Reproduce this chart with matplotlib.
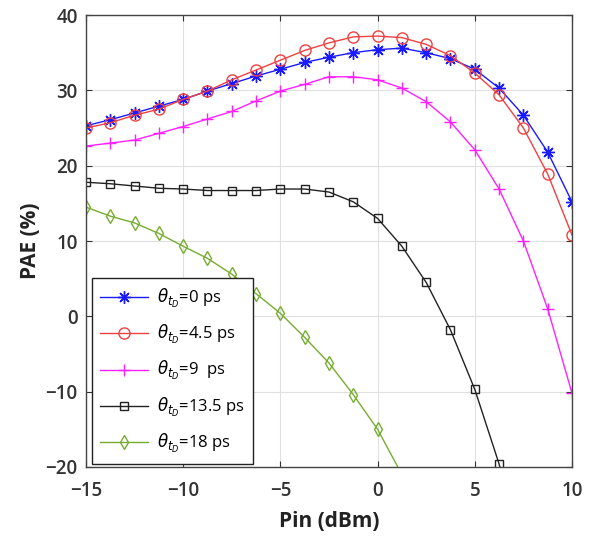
"""
PAE vs input power for several theta_tD values
"""

from matplotlib import pyplot as plt
import numpy as np

pin = np.arange(-15, 10.01, 1.25)

pae_0 = [25.3, 26.1, 27.0, 27.9, 28.8, 29.9, 30.9, 31.9, 32.8, 33.7, 34.4,
         35.0, 35.4, 35.6, 35.0, 34.2, 32.8, 30.3, 26.7, 21.8, 15.2]
pae_45 = [25.0, 25.7, 26.7, 27.5, 28.8, 29.9, 31.4, 32.7, 34.0, 35.3, 36.3,
          37.1, 37.2, 37.0, 36.1, 34.6, 32.3, 29.4, 25.0, 18.9, 10.8]
pae_9 = [22.6, 23.0, 23.4, 24.3, 25.2, 26.2, 27.2, 28.6, 29.9, 30.8, 31.8,
         31.8, 31.4, 30.3, 28.5, 25.8, 22.1, 16.9, 10.0, 1.0, -10.2]
pae_135 = [17.8, 17.6, 17.3, 17.0, 16.9, 16.7, 16.7, 16.7, 16.9, 16.9, 16.5,
           15.2, 13.0, 9.3, 4.5, -1.8, -9.7, -19.6, -32.0]
pae_18 = [14.5, 13.3, 12.4, 11.0, 9.3, 7.7, 5.6, 3.0, 0.4, -2.8, -6.2,
          -10.4, -15.0, -21.0]

labels = [r'$\theta_{t_D}$=0 ps', r'$\theta_{t_D}$=4.5 ps', r'$\theta_{t_D}$=9  ps',
          r'$\theta_{t_D}$=13.5 ps', r'$\theta_{t_D}$=18 ps']

plt.rcParams['font.family'] = ['Open Sans', 'DejaVu Sans']
plt.rcParams['mathtext.fontset'] = 'dejavusans'

fig = plt.figure(figsize=(5.98, 5.42), dpi=100)
axes = fig.add_axes([0.1438, 0.1384, 0.8127, 0.8339])

series = [pae_0, pae_45, pae_9, pae_135, pae_18]
colors = ['#1a1aff', '#f04040', '#ff20ff', '#222222', '#77ac30']
markers = [(8, 2, 0), 'o', '+', 's', 'd']
sizes = [9, 8, 9, 6, 7.5]

for y, c, m, s, lab in zip(series, colors, markers, sizes, labels):
    axes.plot(pin[:len(y)], y, color=c, marker=m, markersize=s, linewidth=1.0,
              markerfacecolor='none', markeredgewidth=1.0, label=lab)

axes.set_xlim(-15, 10)
axes.set_ylim(-20, 40)
axes.set_xticks([-15, -10, -5, 0, 5, 10])
axes.set_yticks([-20, -10, 0, 10, 20, 30, 40])
axes.grid(True, color='#e0e0e0', linewidth=0.8)
axes.tick_params(direction='in', length=4, labelsize=13.5, colors='#333333',
                 right=True, top=True, pad=6)
axes.tick_params(axis='x', pad=10)
for lbl in axes.get_xticklabels() + axes.get_yticklabels():
    lbl.set_fontweight('semibold')
for sp in axes.spines.values():
    sp.set_color('#444444')
    sp.set_linewidth(1.0)

axes.set_xlabel('Pin (dBm)', fontsize=15, fontweight='bold', color='#222222',
                labelpad=7)
axes.set_ylabel('PAE (%)', fontsize=15, fontweight='bold', color='#222222',
                labelpad=3)

leg = axes.legend(loc='lower left', bbox_to_anchor=(0.005, 0.0), fontsize=12,
                  fancybox=False, edgecolor='#222222', framealpha=1,
                  handlelength=2.9, handletextpad=0.5, labelspacing=0.8,
                  borderaxespad=0.2, borderpad=0.5)
leg.get_frame().set_linewidth(1.0)

plt.savefig('out.png', dpi=100)
